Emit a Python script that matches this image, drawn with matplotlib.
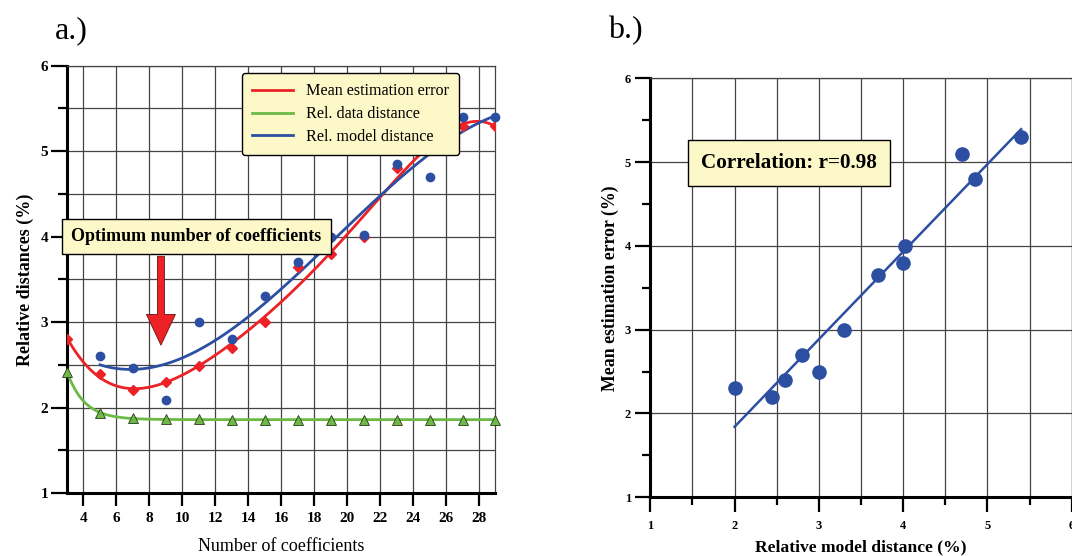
import matplotlib
matplotlib.use('Agg')
import matplotlib.pyplot as plt
import numpy as np
from matplotlib.patches import FancyArrow

plt.rcParams['font.family'] = ['Liberation Serif', 'DejaVu Serif']

# panel a data
n_coef = [3, 5, 7, 9, 11, 13, 15, 17, 19, 21, 23, 25, 27, 29]
mean_err = [2.8, 2.39, 2.2, 2.3, 2.49, 2.7, 3.0, 3.65, 3.8, 4.0, 4.8, 5.1, 5.29, 5.29]
data_dist = [2.42, 1.94, 1.875, 1.87, 1.87, 1.86, 1.86, 1.86, 1.855, 1.855, 1.855, 1.85, 1.855, 1.855]
n_coef_model = [5, 7, 9, 11, 13, 15, 17, 19, 21, 23, 25, 27, 29]
model_dist = [2.6, 2.46, 2.09, 3.0, 2.8, 3.3, 3.7, 4.0, 4.02, 4.85, 4.7, 5.4, 5.4]

# panel b data
b_model = [2.0, 2.45, 2.6, 2.8, 3.0, 3.3, 3.7, 4.0, 4.02, 4.7, 4.85, 5.4]
b_err = [2.3, 2.2, 2.4, 2.7, 2.5, 3.0, 3.65, 3.8, 4.0, 5.1, 4.8, 5.3]

red = '#ec2227'
green = '#6cba45'
blue = '#2d4fa2'
boxfill = '#fdf8c8'
gridc = '#444444'

fig = plt.figure(figsize=(10.72, 5.56), dpi=100)
ax1 = fig.add_axes([0.0625, 0.1133, 0.3997, 0.7685])
ax2 = fig.add_axes([0.6066, 0.1056, 0.3931, 0.7536])


def style_axes(ax):
    for s in ['left', 'bottom']:
        ax.spines[s].set_linewidth(2.2)
        ax.spines[s].set_color('black')
    for s in ['top', 'right']:
        ax.spines[s].set_linewidth(0.9)
        ax.spines[s].set_color(gridc)
    ax.tick_params(which='both', direction='out', top=False, right=False, width=1.6, color='black')
    ax.set_axisbelow(True)


# ---- a.)
x = np.array(n_coef, dtype=float)
xm = np.array(n_coef_model, dtype=float)
xs = np.linspace(3, 29, 300)
xs_m = np.linspace(5, 29, 300)

# smooth curves fitted to the points
p_err = np.polyfit(x, mean_err, 5)
p_mod = np.polyfit(xm, model_dist, 3)
# exponential decay for data distance: a + b*exp(-k(x-3))
best = None
yd = np.array(data_dist)
for k in np.linspace(0.3, 2.0, 171):
    A = np.column_stack([np.ones_like(x), np.exp(-k * (x - 3))])
    coef, res, _, _ = np.linalg.lstsq(A, yd, rcond=None)
    r = np.sum((A @ coef - yd) ** 2)
    if best is None or r < best[0]:
        best = (r, k, coef)
_, kd, cd = best
fit_data = cd[0] + cd[1] * np.exp(-kd * (xs - 3))

ax1.plot(xs, np.polyval(p_err, xs), color=red, lw=2, label='Mean estimation error', zorder=3)
ax1.plot(xs, fit_data, color=green, lw=2, label='Rel. data distance', zorder=3)
ax1.plot(xs_m, np.polyval(p_mod, xs_m), color=blue, lw=2, label='Rel. model distance', zorder=3)
ax1.plot(n_coef, mean_err, 'D', color=red, ms=5, zorder=4)
ax1.plot(n_coef, data_dist, '^', color=green, mec='#2a3a1a', mew=0.6, ms=7, zorder=4, clip_on=False)
ax1.plot(n_coef_model, model_dist, 'o', color=blue, ms=6, zorder=4, clip_on=False)

ax1.set_xlim(3, 29)
ax1.set_ylim(1, 6)
ax1.set_xticks(range(4, 29, 2))
ax1.set_yticks([1, 2, 3, 4, 5, 6])
ax1.set_yticks(np.arange(1.5, 6, 1.0), minor=True)
ax1.grid(True, which='major', axis='x', color=gridc, lw=0.9)
ax1.grid(True, which='both', axis='y', color=gridc, lw=0.9)
style_axes(ax1)
ax1.tick_params(axis='y', which='major', length=11.5, labelsize=11, pad=2)
ax1.tick_params(axis='y', which='minor', length=6.5)
ax1.tick_params(axis='x', which='major', length=9, labelsize=11, pad=5)
for lab in ax1.get_xticklabels() + ax1.get_yticklabels():
    lab.set_fontweight('bold')
ax1.set_xlabel('Number of coefficients', fontsize=13, labelpad=9)
ax1.set_ylabel('Relative distances (%)', fontsize=13, fontweight='bold', labelpad=5)

leg = ax1.legend(loc='upper right', bbox_to_anchor=(0.915, 0.983), borderaxespad=0,
                 fontsize=11.6, fancybox=True, framealpha=1, facecolor=boxfill,
                 edgecolor='black', handlelength=2.5, labelspacing=0.42, borderpad=0.65)
leg.get_frame().set_linewidth(1.0)
leg.set_zorder(6)

ax1.text(10.85, 4.0, 'Optimum number of coefficients', fontsize=13, fontweight='bold',
         ha='center', va='center', zorder=7, clip_on=False,
         bbox=dict(boxstyle='square,pad=0.5', fc=boxfill, ec='black', lw=1.0))
arrow = FancyArrow(8.7, 3.77, 0, -1.04, width=0.42, head_width=1.76, head_length=0.36,
                   length_includes_head=True, fc=red, ec='#6a1010', lw=0.6, zorder=5)
ax1.add_patch(arrow)

fig.text(0.051, 0.945, 'a.)', fontsize=23, ha='left', va='center')

# ---- b.)
pb = np.polyfit(b_model, b_err, 1)
xb = np.array([min(b_model), max(b_model)])
ax2.plot(xb, np.polyval(pb, xb), color=blue, lw=1.8, zorder=3)
ax2.plot(b_model, b_err, 'o', color=blue, ms=9.5, zorder=4)
ax2.set_xlim(1, 6)
ax2.set_ylim(1, 6)
ax2.set_xticks([1, 2, 3, 4, 5, 6])
ax2.set_xticks(np.arange(1.5, 6, 1.0), minor=True)
ax2.set_yticks([1, 2, 3, 4, 5, 6])
ax2.set_yticks(np.arange(1.5, 6, 1.0), minor=True)
ax2.grid(True, which='both', axis='x', color=gridc, lw=0.9)
ax2.grid(True, which='major', axis='y', color=gridc, lw=0.9)
style_axes(ax2)
ax2.tick_params(which='major', length=10.5, labelsize=9)
ax2.tick_params(which='minor', length=5.5)
ax2.tick_params(axis='x', pad=6)
for lab in ax2.get_xticklabels() + ax2.get_yticklabels():
    lab.set_fontweight('bold')
ax2.set_xlabel('Relative model distance (%)', fontsize=12.6, fontweight='bold', labelpad=5)
ax2.set_ylabel('Mean estimation error (%)', fontsize=12.8, fontweight='bold', labelpad=4)
ax2.text(2.645, 4.99, 'Correlation: r=0.98', fontsize=15.2, fontweight='bold',
         ha='center', va='center', zorder=6,
         bbox=dict(boxstyle='square,pad=0.62', fc=boxfill, ec='black', lw=1.0))

fig.text(0.567, 0.945, 'b.)', fontsize=23, ha='left', va='center')

fig.savefig('out.png', dpi=100)
